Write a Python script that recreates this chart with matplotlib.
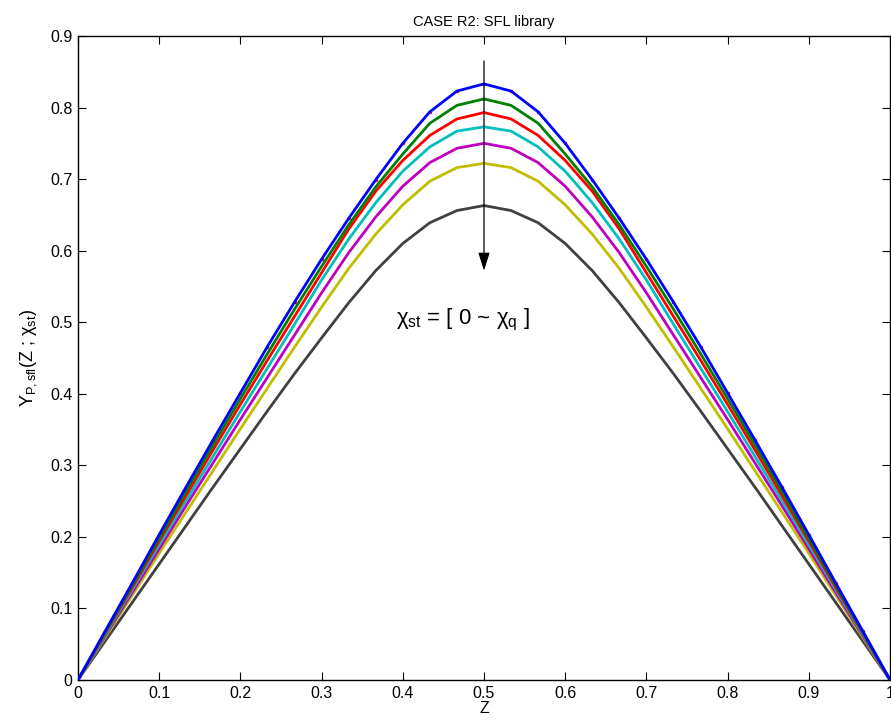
import numpy as np
import matplotlib
matplotlib.use('Agg')
import matplotlib.pyplot as plt

plt.rcParams['font.family'] = ['Liberation Sans', 'DejaVu Sans']
plt.rcParams['mathtext.fontset'] = 'custom'
plt.rcParams['mathtext.rm'] = 'Liberation Sans'
plt.rcParams['mathtext.it'] = 'Liberation Sans'

# Z grid: 31 points, 0 .. 1 step 1/30
z = np.linspace(0, 1, 31)

# left half (Z = 0 .. 0.5), right half is the mirror image
blue_half = [0, 0.068, 0.135, 0.203, 0.270, 0.336, 0.401, 0.466, 0.528, 0.588,
             0.645, 0.699, 0.750, 0.794, 0.823, 0.833]
green_half = [0, 0.066, 0.132, 0.198, 0.264, 0.329, 0.393, 0.456, 0.518, 0.578,
              0.636, 0.689, 0.735, 0.778, 0.803, 0.812]
red_half = [0, 0.065, 0.129, 0.194, 0.258, 0.322, 0.385, 0.447, 0.508, 0.569,
            0.630, 0.683, 0.726, 0.761, 0.784, 0.793]
cyan_half = [0, 0.063, 0.126, 0.189, 0.251, 0.313, 0.375, 0.436, 0.497, 0.559,
             0.616, 0.667, 0.711, 0.745, 0.767, 0.773]
magenta_half = [0, 0.061, 0.122, 0.183, 0.244, 0.304, 0.364, 0.423, 0.482, 0.541,
                0.597, 0.647, 0.690, 0.723, 0.743, 0.750]
yellow_half = [0, 0.059, 0.118, 0.177, 0.235, 0.293, 0.351, 0.408, 0.465, 0.521,
               0.575, 0.623, 0.664, 0.697, 0.716, 0.722]
gray_half = [0, 0.054, 0.108, 0.162, 0.216, 0.270, 0.323, 0.376, 0.428, 0.478,
             0.527, 0.572, 0.610, 0.639, 0.656, 0.663]


def full(half):
    return np.array(half + half[-2::-1])


curves = [
    (gray_half, (0.25, 0.25, 0.25)),
    (yellow_half, (0.75, 0.75, 0)),
    (magenta_half, (0.75, 0, 0.75)),
    (cyan_half, (0, 0.75, 0.75)),
    (red_half, (1, 0, 0)),
    (green_half, (0, 0.5, 0)),
]

fig = plt.figure(figsize=(8.91, 7.28), dpi=100)
ax = fig.add_axes([0.0875, 0.066, 0.9114, 0.8846])

ax.plot(z, full(blue_half), 'r.', ms=3, zorder=2)
for half, col in curves:
    ax.plot(z, full(half), color=col, lw=2.0, zorder=3)
ax.plot(z, full(blue_half), color=(0, 0, 1), lw=2.0, zorder=4)

ax.annotate('', xy=(0.5, 0.572), xytext=(0.5, 0.865),
            arrowprops=dict(arrowstyle='-|>,head_length=1.1,head_width=0.35',
                            color='k', lw=0.9, shrinkA=0, shrinkB=0), zorder=6)
ax.text(0.392, 0.503, 'χ$_{\\rm st}$ = [ 0 ~ χ$_{\\rm q}$ ]', fontsize=16,
        ha='left', va='center')

ax.set_xlim(0, 1)
ax.set_ylim(0, 0.9)
ax.set_xticks(np.arange(0, 1.01, 0.1))
ax.set_xticklabels(['0', '0.1', '0.2', '0.3', '0.4', '0.5', '0.6', '0.7', '0.8', '0.9', '1'])
ax.set_yticks(np.arange(0, 0.91, 0.1))
ax.set_yticklabels(['0', '0.1', '0.2', '0.3', '0.4', '0.5', '0.6', '0.7', '0.8', '0.9'])
ax.tick_params(direction='in', length=6, width=0.8, top=True, right=True,
               labelsize=11.5, pad=4)
for s in ax.spines.values():
    s.set_linewidth(1.0)

ax.set_title('CASE R2: SFL library', fontsize=10.5, pad=7)
ax.set_xlabel('Z', fontsize=11.5, labelpad=0)
ax.set_ylabel('Y$_{\\rm P,sfl}$(Z ; χ$_{\\rm st}$)', fontsize=13, labelpad=8)

fig.savefig('out.png', dpi=100)
